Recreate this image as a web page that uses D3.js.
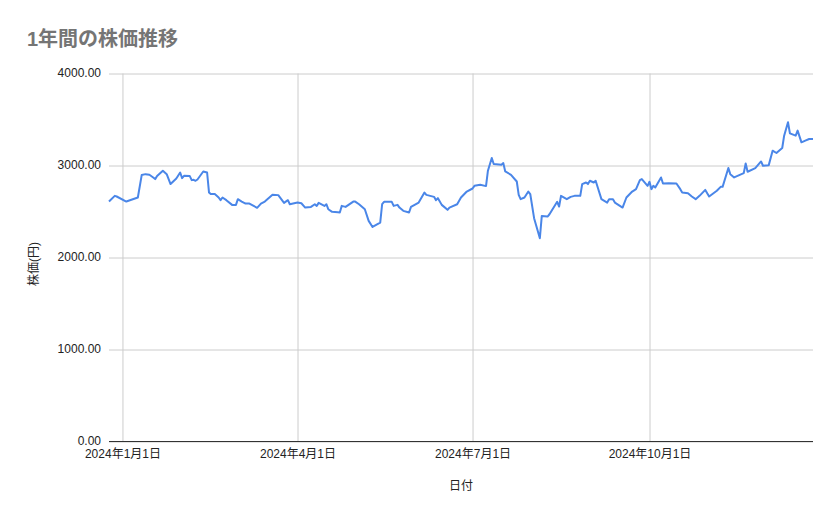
<!DOCTYPE html>
<html lang="ja">
<head>
<meta charset="utf-8">
<script src="https://cdn.jsdelivr.net/npm/d3@7"></script>
<style>
  html, body { margin: 0; padding: 0; background: #fff; }
  #chart { width: 839px; height: 519px; }
  text { font-family: "Liberation Sans", Arial, "Noto Sans CJK JP", sans-serif; }
</style>
</head>
<body>
<div id="chart"></div>
<script>
// 株価データ(チャートから読み取った値)
const dates = [
  "2023-12-25","2023-12-28","2023-12-29","2024-01-03","2024-01-09","2024-01-11","2024-01-13","2024-01-15",
  "2024-01-17","2024-01-18","2024-01-19","2024-01-22","2024-01-24","2024-01-26","2024-01-29","2024-01-31",
  "2024-02-01","2024-02-02","2024-02-05","2024-02-06","2024-02-07","2024-02-08","2024-02-09","2024-02-12",
  "2024-02-14","2024-02-15","2024-02-16","2024-02-18","2024-02-20","2024-02-21","2024-02-22","2024-02-24",
  "2024-02-27","2024-02-29","2024-03-01","2024-03-03","2024-03-05","2024-03-07","2024-03-11","2024-03-13",
  "2024-03-15","2024-03-19","2024-03-22","2024-03-25","2024-03-27","2024-03-28","2024-04-01","2024-04-03",
  "2024-04-05","2024-04-08","2024-04-10","2024-04-11","2024-04-12","2024-04-15","2024-04-16","2024-04-17",
  "2024-04-19","2024-04-22","2024-04-23","2024-04-24","2024-04-26","2024-04-30","2024-05-01","2024-05-03",
  "2024-05-06","2024-05-08","2024-05-10","2024-05-14","2024-05-15","2024-05-16","2024-05-20","2024-05-21",
  "2024-05-23","2024-05-24","2024-05-26","2024-05-29","2024-05-30","2024-06-03","2024-06-06","2024-06-07",
  "2024-06-11","2024-06-12","2024-06-13","2024-06-15","2024-06-18","2024-06-19","2024-06-23","2024-06-25",
  "2024-06-28","2024-07-01","2024-07-02","2024-07-05","2024-07-08","2024-07-09","2024-07-11","2024-07-12",
  "2024-07-16","2024-07-17","2024-07-18","2024-07-21","2024-07-24","2024-07-25","2024-07-26","2024-07-28",
  "2024-07-30","2024-07-31","2024-08-02","2024-08-05","2024-08-06","2024-08-09","2024-08-10","2024-08-14",
  "2024-08-15","2024-08-16","2024-08-19","2024-08-21","2024-08-23","2024-08-26","2024-08-27","2024-08-29",
  "2024-08-30","2024-08-31","2024-09-02","2024-09-03","2024-09-06","2024-09-09","2024-09-10","2024-09-12",
  "2024-09-13","2024-09-17","2024-09-19","2024-09-22","2024-09-24","2024-09-26","2024-09-27","2024-09-30",
  "2024-10-01","2024-10-02","2024-10-03","2024-10-04","2024-10-07","2024-10-08","2024-10-11","2024-10-15",
  "2024-10-17","2024-10-18","2024-10-21","2024-10-23","2024-10-25","2024-10-27","2024-10-30","2024-11-01",
  "2024-11-05","2024-11-07","2024-11-08","2024-11-11","2024-11-12","2024-11-14","2024-11-19","2024-11-20",
  "2024-11-21","2024-11-25","2024-11-28","2024-11-29","2024-12-02","2024-12-04","2024-12-06","2024-12-09",
  "2024-12-10","2024-12-12","2024-12-13","2024-12-16","2024-12-17","2024-12-19","2024-12-21","2024-12-23",
  "2024-12-25"
];

const prices = [
  2608, 2670, 2663, 2608, 2652, 2896, 2906, 2899,
  2870, 2852, 2885, 2943, 2906, 2798, 2859, 2924,
  2863, 2888, 2885, 2841, 2845, 2834, 2848, 2935,
  2924, 2706, 2689, 2689, 2652, 2623, 2652, 2623,
  2572, 2572, 2634, 2608, 2586, 2586, 2540, 2586,
  2608, 2681, 2678, 2594, 2623, 2579, 2597, 2590,
  2543, 2550, 2579, 2561, 2594, 2561, 2579, 2525,
  2496, 2492, 2489, 2561, 2550, 2608, 2608, 2579,
  2525, 2398, 2332, 2380, 2579, 2605, 2605, 2561,
  2572, 2543, 2507, 2489, 2550, 2597, 2706, 2681,
  2659, 2623, 2645, 2572, 2518, 2543, 2579, 2652,
  2717, 2750, 2779, 2790, 2776, 2943, 3081, 3016,
  3008, 3026, 2935, 2899, 2826, 2681, 2634, 2652,
  2717, 2690, 2427, 2209, 2452, 2445, 2470, 2605,
  2554, 2670, 2634, 2659, 2670, 2670, 2798, 2815,
  2798, 2834, 2815, 2834, 2634, 2597, 2634, 2634,
  2597, 2543, 2652, 2717, 2743, 2841, 2852, 2779,
  2823, 2743, 2779, 2761, 2870, 2805, 2808, 2805,
  2743, 2706, 2699, 2663, 2634, 2670, 2735, 2663,
  2725, 2768, 2768, 2972, 2906, 2870, 2917, 3022,
  2932, 2972, 3044, 2997, 3004, 3161, 3136, 3190,
  3324, 3470, 3350, 3324, 3379, 3252, 3270, 3288,
  3288
];

const yTicks = [0, 1000, 2000, 3000, 4000];
const xTicks = ["2024-01-01", "2024-04-01", "2024-07-01", "2024-10-01"];

const title = "1年間の株価推移";
const yTitle = "株価(円)";
const xTitle = "日付";

function renderChart() {
  const stage = document.getElementById('chart');
  const width = 839, height = 519;
  const margin = { top: 73.5, right: 26, bottom: 77.5, left: 109 };

  const parse = d3.timeParse('%Y-%m-%d');
  const rows = dates.map((d, i) => ({ date: parse(d), price: prices[i] }));

  const x = d3.scaleTime()
    .domain(d3.extent(rows, d => d.date))
    .range([margin.left, width - margin.right]);

  const y = d3.scaleLinear()
    .domain([0, 4000])
    .range([height - margin.bottom, margin.top]);

  const svg = d3.select(stage)
    .append('svg')
    .attr('width', width)
    .attr('height', height)
    .attr('viewBox', `0 0 ${width} ${height}`);

  svg.append('rect').attr('width', width).attr('height', height).attr('fill', '#fff');

  // 横グリッド + Y軸ラベル
  const yAxis = d3.axisLeft(y)
    .tickValues(yTicks)
    .tickSize(-(width - margin.left - margin.right))
    .tickPadding(8)
    .tickFormat(d3.format('.2f'));

  svg.append('g')
    .attr('transform', `translate(${margin.left},0)`)
    .call(yAxis)
    .call(g => g.select('.domain').remove())
    .call(g => g.selectAll('.tick line').attr('stroke', '#cccccc').attr('stroke-width', 1))
    .call(g => g.selectAll('.tick text')
      .attr('fill', '#222').attr('dy', '0.28em').style('font-size', '12px'));

  // 縦グリッド + X軸ラベル
  const fmtDate = d => `${d.getFullYear()}年${d.getMonth() + 1}月${d.getDate()}日`;
  const xAxis = d3.axisBottom(x)
    .tickValues(xTicks.map(parse))
    .tickSize(-(height - margin.top - margin.bottom))
    .tickPadding(8)
    .tickFormat(fmtDate);

  svg.append('g')
    .attr('transform', `translate(0,${height - margin.bottom})`)
    .call(xAxis)
    .call(g => g.select('.domain').remove())
    .call(g => g.selectAll('.tick line').attr('stroke', '#cccccc').attr('stroke-width', 1))
    .call(g => g.selectAll('.tick text')
      .attr('fill', '#222').style('font-size', '12px'));

  // 0のベースライン
  svg.append('line')
    .attr('x1', margin.left).attr('x2', width - margin.right)
    .attr('y1', y(0)).attr('y2', y(0))
    .attr('stroke', '#333').attr('stroke-width', 1);

  // 折れ線
  const line = d3.line()
    .x(d => x(d.date))
    .y(d => y(d.price));

  svg.append('path')
    .datum(rows)
    .attr('fill', 'none')
    .attr('stroke', '#4a86e8')
    .attr('stroke-width', 2)
    .attr('stroke-linejoin', 'round')
    .attr('d', line);

  // タイトル
  svg.append('text')
    .attr('x', 27).attr('y', 46)
    .attr('fill', '#757575')
    .style('font-size', '20px')
    .style('font-weight', '700')
    .text(title);

  // 軸タイトル
  svg.append('text')
    .attr('transform', `translate(38,264) rotate(-90)`)
    .attr('text-anchor', 'middle')
    .attr('fill', '#222')
    .style('font-size', '12px')
    .text(yTitle);

  svg.append('text')
    .attr('x', (margin.left + width - margin.right) / 2)
    .attr('y', 490)
    .attr('text-anchor', 'middle')
    .attr('fill', '#222')
    .style('font-size', '12px')
    .text(xTitle);
}

renderChart();
</script>
</body>
</html>
